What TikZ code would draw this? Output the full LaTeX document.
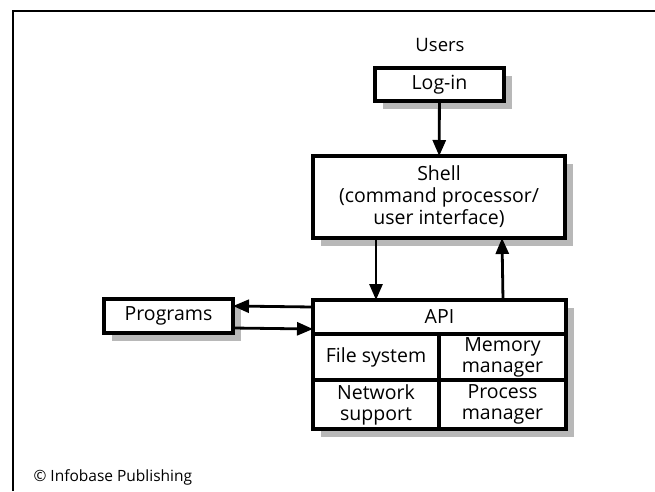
\documentclass[tikz,border=0pt]{standalone}
\usepackage{fontspec}
\setmainfont{Open Sans}
\usetikzlibrary{arrows.meta, positioning}

\tikzset{
  box/.style={draw, line width=3.2pt, fill=white, inner sep=0pt, outer sep=0pt,
    align=center, font=\fontsize{19.5}{21}\selectfont},
  shadowbox/.style={fill=black!28, draw=none},
  arr/.style={line width=2.8pt, -{Triangle[length=16pt, width=13pt]}}
}

\begin{document}
\begin{tikzpicture}[x=1pt, y=-1pt]

\useasboundingbox (0,0) rectangle (655,491);

% frame (cut off at the right and bottom)
\draw[line width=2pt] (13,491) -- (13,11) -- (655,11);

% shadows
\fill[shadowbox] (383,76) rectangle (512,109);
\fill[shadowbox] (321,164) rectangle (573,246);
\fill[shadowbox] (112,307) rectangle (241,341);
\fill[shadowbox] (321,308) rectangle (574,437);

% top part
\node (users) at (440,45) {\fontsize{18.5}{21}\selectfont Users};
\node[box, minimum width=129pt, minimum height=33pt] (login) at (439.5,84.5) {Log-in};
\node[box, minimum width=252pt, minimum height=82pt,
  font=\fontsize{19.5}{22}\selectfont] (shell) at (439,197)
  {Shell\\(command processor/\\user interface)};

% API block
\node[box, minimum width=253pt, minimum height=34pt] (api) at (439.5,317) {API};
\node[box, minimum width=126pt, minimum height=46pt, anchor=north west]
  (filesys) at (api.south west) {File system};
\node[box, minimum width=127pt, minimum height=46pt, anchor=north east]
  (memory) at (api.south east) {Memory\\manager};
\node[box, minimum width=126pt, minimum height=49pt, anchor=north west]
  (network) at (filesys.south west) {Network\\support};
\node[box, minimum width=127pt, minimum height=49pt, anchor=north east]
  (process) at (memory.south east) {Process\\manager};

% programs
\node[box, minimum width=129pt, minimum height=34pt] (programs) at (168.5,316) {Programs};

% connectors
\draw[arr] (login) -- (shell);
\draw[arr] ([xshift=63pt]shell.south west) -- ([xshift=63pt]api.north west);
\draw[arr] ([xshift=-63pt]api.north east) -- ([xshift=-63pt]shell.south east);
\draw[arr] ([yshift=-7pt]api.north west) -- ([yshift=-7pt]programs.north east);
\draw[arr] ([yshift=5pt]programs.south east) -- ([yshift=5pt]api.south west);

% credit
\node[anchor=west, font=\fontsize{15.5}{18}\selectfont] (credit) at (30,477)
  {© Infobase Publishing};

\end{tikzpicture}
\end{document}
